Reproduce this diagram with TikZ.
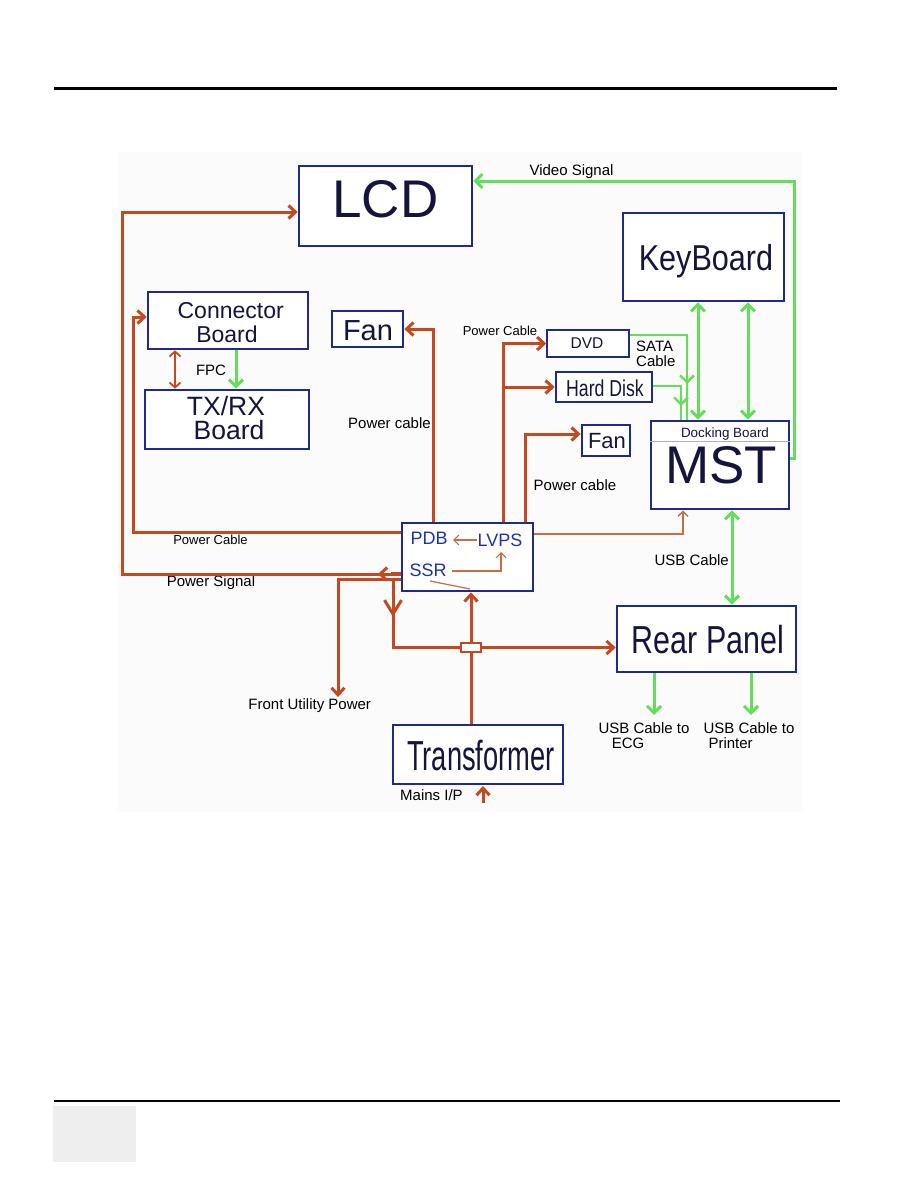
\documentclass[tikz,border=0pt]{standalone}
\usepackage{fontspec}
\setmainfont{Liberation Sans}
\usepackage{graphicx}
\usetikzlibrary{arrows.meta,calc}
\definecolor{boxblue}{RGB}{32,42,140}
\definecolor{pred}{RGB}{196,72,32}
\definecolor{pgreen}{RGB}{100,222,90}
\definecolor{navy}{RGB}{20,20,60}
\definecolor{pdbblue}{RGB}{30,50,170}
\definecolor{tbrown}{RGB}{200,110,70}
\begin{document}
\begin{tikzpicture}[x=1pt,y=-1pt,
  bx/.style={draw=boxblue,line width=2.6pt,fill=white,inner sep=0pt},
  big/.style={text=navy,anchor=base,inner sep=0pt},
  inb/.style={text=pdbblue,anchor=base,inner sep=0pt,font=\fontsize{18}{20}\selectfont},
  lbl/.style={text=black,anchor=base,inner sep=0pt,font=\fontsize{15}{17}\selectfont},
  slbl/.style={text=black,anchor=base,inner sep=0pt,font=\fontsize{13}{15}\selectfont},
  rl/.style={draw=pred,line width=3pt},
  gl/.style={draw=pgreen,line width=3pt},
  tl/.style={draw=tbrown,line width=1.2pt},
  ra/.style={-{Straight Barb[length=7pt,width=13pt]}},
  ta/.style={-{Straight Barb[length=5pt,width=10pt]}},
  ga/.style={-{Straight Barb[length=7pt,width=14pt]}},
  gda/.style={{Straight Barb[length=7pt,width=14pt]}-{Straight Barb[length=7pt,width=14pt]}}
]
\fill[white] (0,0) rectangle (918,1188);
\useasboundingbox (0,0) rectangle (918,1188);
\fill[gray!3] (118,152) rectangle (802,812);
% page decoration
\draw[line width=3pt] (54,89) -- (837,89);
\draw[line width=1.5pt] (54,1101) -- (840,1101);
\fill[gray!13] (53,1106) rectangle (136,1162);

% boxes
\node[bx,minimum width=173pt,minimum height=80pt] (lcd) at (385.5,206) {};
\node[bx,minimum width=160pt,minimum height=57pt] (conn) at (228,320.5) {};
\node[bx,minimum width=164pt,minimum height=59pt] (txrx) at (227,419.5) {};
\node[bx,minimum width=71pt,minimum height=36pt] (fan1) at (367.5,329) {};
\node[bx,line width=1.5pt,minimum width=82pt,minimum height=27pt] (dvd) at (588,343.5) {};
\node[bx,minimum width=96pt,minimum height=30pt] (hdd) at (604,387) {};
\node[bx,minimum width=48pt,minimum height=31pt] (fan2) at (606,440.5) {};
\node[bx,minimum width=161pt,minimum height=88pt] (kb) at (703.5,257) {};
\node[bx,minimum width=138pt,minimum height=88pt] (mst) at (720,465) {};
\node[bx,minimum width=131pt,minimum height=68pt] (pdb) at (467.5,557) {};
\node[bx,minimum width=179pt,minimum height=66pt] (rear) at (706.5,639) {};
\node[bx,minimum width=170pt,minimum height=59pt] (trans) at (478,754.5) {};
\draw[gray!60,line width=0.8pt] ($(mst.west)+(0,-24)$) -- ($(mst.east)+(0,-24)$);

% box texts
\node[big,font=\fontsize{53}{53}\selectfont] (tlcd) at (385.5,217) {LCD};
\node[big,font=\fontsize{23}{23}\selectfont] (tconn1) at (230.7,318) {Connector};
\node[big,font=\fontsize{23}{23}\selectfont] (tconn2) at (227,342.3) {Board};
\node[big,font=\fontsize{26.5}{26.5}\selectfont] (ttx1) at (226,415) {TX/RX};
\node[big,font=\fontsize{26.5}{26.5}\selectfont] (ttx2) at (229,439.3) {Board};
\node[big,font=\fontsize{29}{29}\selectfont] (tfan1) at (368,340) {Fan};
\node[big,font=\fontsize{15.5}{15.5}\selectfont] (tdvd) at (587,348) {DVD};
\node[big,font=\fontsize{23}{23}\selectfont] (thdd) at (605,396.7) {\scalebox{0.77}[1]{Hard Disk}};
\node[big,font=\fontsize{22}{22}\selectfont] (tfan2) at (607,448) {Fan};
\node[big,font=\fontsize{36}{36}\selectfont] (tkb) at (706,270) {\scalebox{0.85}[1]{KeyBoard}};
\node[big,font=\fontsize{13.4}{13.4}\selectfont] (tdock) at (725,437.3) {Docking Board};
\node[big,font=\fontsize{53}{53}\selectfont] (tmst) at (721,483.3) {MST};
\node[big,font=\fontsize{39}{39}\selectfont] (trear) at (708,653) {\scalebox{0.78}[1]{Rear Panel}};
\node[big,font=\fontsize{42}{42}\selectfont] (ttrans) at (481,770) {\scalebox{0.65}[1]{Transformer}};
\node[inb] (tpdb) at (429,544) {PDB};
\node[inb] (tlvps) at (500,546) {LVPS};
\node[inb] (tssr) at (428,576) {SSR};

% labels
\node[lbl] (lvideo) at (571.5,175.7) {Video Signal};
\node[lbl] (lfpc) at (211,375) {FPC};
\node[lbl] (lpc1) at (389.5,428) {Power cable};
\node[slbl] (lpc2) at (500,335.7) {Power Cable};
\node[lbl,anchor=base west] (lsata1) at (636,351.7) {SATA};
\node[lbl,anchor=base west] (lsata2) at (636,366.7) {Cable};
\node[lbl] (lpc3) at (575,490) {Power cable};
\node[slbl] (lpc4) at (210.5,544) {Power Cable};
\node[lbl] (lps) at (211,586) {Power Signal};
\node[lbl] (lfup) at (309.7,709.3) {Front Utility Power};
\node[lbl] (lusb) at (691.7,565) {USB Cable};
\node[lbl,anchor=base west] (lecg1) at (598.3,733.3) {USB Cable to};
\node[lbl,anchor=base west] (lecg2) at (611.7,748.3) {ECG};
\node[lbl,anchor=base west] (lpr1) at (703.3,733.3) {USB Cable to};
\node[lbl,anchor=base west] (lpr2) at (708.3,748.3) {Printer};
\node[lbl,anchor=base west] (lmains) at (400,800.7) {Mains I/P};

% red power connectors
\coordinate (ps1) at (122,574);
\draw[rl,ra] (pdb.west |- ps1) -- (ps1) |- ($(lcd.west)+(0,6)$);
\coordinate (psa) at (396,574);
\coordinate (psb) at (378,574);
\draw[rl,ra] (psa) -- (psb);
\draw[pred,line width=4.5pt] (391,574) -- (401,574);
\coordinate (cb1) at (133,532);
\draw[rl,ra] (pdb.west |- cb1) -- (cb1) |- ($(conn.west)+(0,-3.5)$);
\coordinate (fu1) at (338,579);
\coordinate (fu2) at (338,697);
\draw[rl,ra] (pdb.west |- fu1) -- (fu1) -- (fu2);

\node[draw=pred,line width=1.6pt,fill=white,minimum width=20pt,minimum height=9pt,inner sep=0pt] (jbox) at (471,647.5) {};
\coordinate (sj) at (393,579);
\draw[rl] (sj) |- (jbox.west);
\coordinate (sja) at (393,596);
\coordinate (sjb) at (393,617);
\draw[rl,-{Straight Barb[length=14pt,width=17pt]}] (sja) -- (sjb);
\draw[rl] (trans.north -| jbox) -- (jbox.south);
\draw[rl,ra] (jbox.north) -- (pdb.south -| jbox);
\draw[rl,ra] (jbox.east) -- (jbox.east -| rear.west);

\draw[rl,ra] ($(pdb.north)+(-34.5,0)$) |- (fan1.east);
\coordinate (hb) at (503,387);
\draw[rl,ra] (pdb.north -| hb) |- (dvd.west);
\draw[rl,ra] (hb) -- (hdd.west);
\coordinate (f2b) at (525,434);
\draw[rl,ra] (pdb.north -| f2b) -- (f2b) -- (f2b -| fan2.west);

\coordinate (pm) at (683,534);
\draw[tl,line width=1.5pt,ta] (pdb.east |- pm) -- (pm) -- (pm |- mst.south);

% inside PDB
\coordinate (lv1) at (477,540);
\coordinate (lv2) at (453,540);
\draw[tl,ta] (lv1) -- (lv2);
\coordinate (sr1) at (452,571);
\coordinate (sr2) at (501,571);
\coordinate (sr3) at (501,552);
\draw[tl,ta] (sr1) -- (sr2) -- (sr3);
\coordinate (dg1) at (430,581);
\coordinate (dg2) at (470,589);
\draw[tl] (dg1) -- (dg2);

% connector board - tx/rx
\coordinate (c1) at (236,370);
\coordinate (c2) at (175,370);
\draw[gl,ga] (conn.south -| c1) -- (txrx.north -| c1);
\draw[draw=pred,line width=1.8pt,{Straight Barb[length=5pt,width=11pt]}-{Straight Barb[length=5pt,width=11pt]}] (conn.south -| c2) -- (txrx.north -| c2);

% mains
\coordinate (mi) at (483,803);
\draw[rl,ra] (mi) -- ($(mi)+(0,-17)$);

% green signal connectors
\coordinate (vs1) at (794,458);
\coordinate (vs2) at (794,181);
\draw[gl,ga] (mst.east |- vs1) -- (vs1) -- (vs2) -- (vs2 -| lcd.east);
\coordinate (k1) at (698,360);
\coordinate (k2) at (748,360);
\draw[gl,gda] (kb.south -| k1) -- (mst.north -| k1);
\draw[gl,gda] (kb.south -| k2) -- (mst.north -| k2);
\coordinate (s1) at (687,335);
\draw[gl,line width=2.4pt] (dvd.east |- s1) -- (s1) -- (s1 |- mst.north);
\coordinate (s1a) at (687,370);
\coordinate (s1b) at (687,384);
\draw[gl,line width=2.4pt,ga] (s1a) -- (s1b);
\coordinate (s2) at (681,386);
\draw[gl,line width=2.4pt] (hdd.east |- s2) -- (s2) -- (s2 |- mst.north);
\coordinate (s2a) at (681,392);
\coordinate (s2b) at (681,406);
\draw[gl,line width=2.4pt,ga] (s2a) -- (s2b);
\coordinate (u1) at (732,560);
\draw[gl,gda] (mst.south -| u1) -- (rear.north -| u1);
\coordinate (e1) at (654,715);
\coordinate (e2) at (751,715);
\draw[gl,ga] (rear.south -| e1) -- (e1);
\draw[gl,ga] (rear.south -| e2) -- (e2);
\end{tikzpicture}
\end{document}
